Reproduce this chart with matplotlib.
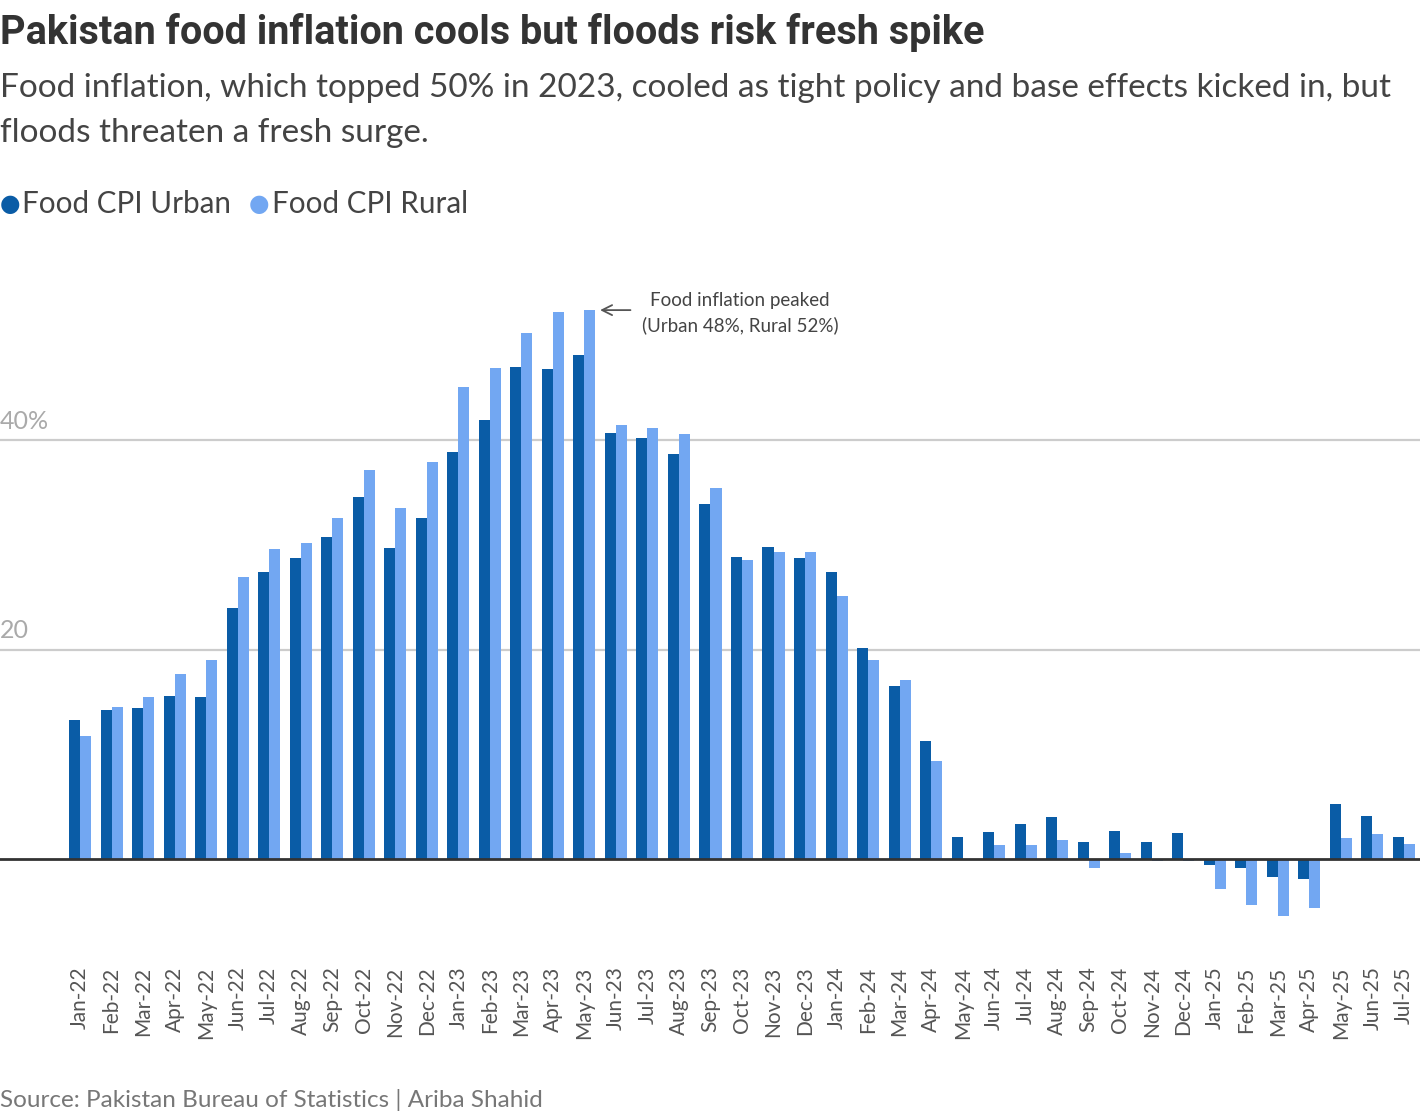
import matplotlib
matplotlib.use("Agg")
import matplotlib.pyplot as plt
import numpy as np

# Data (Food CPI YoY %)
months = ["Jan-22", "Feb-22", "Mar-22", "Apr-22", "May-22", "Jun-22", "Jul-22", "Aug-22",
          "Sep-22", "Oct-22", "Nov-22", "Dec-22", "Jan-23", "Feb-23", "Mar-23", "Apr-23",
          "May-23", "Jun-23", "Jul-23", "Aug-23", "Sep-23", "Oct-23", "Nov-23", "Dec-23",
          "Jan-24", "Feb-24", "Mar-24", "Apr-24", "May-24", "Jun-24", "Jul-24", "Aug-24",
          "Sep-24", "Oct-24", "Nov-24", "Dec-24", "Jan-25", "Feb-25", "Mar-25", "Apr-25",
          "May-25", "Jun-25", "Jul-25"]
urban = [13.3, 14.2, 14.4, 15.6, 15.5, 24.0, 27.4, 28.7, 30.7, 34.6, 29.7, 32.6,
         38.9, 41.9, 47.0, 46.8, 48.1, 40.7, 40.2, 38.7, 33.9, 28.8, 29.8, 28.7,
         27.4, 20.1, 16.5, 11.3, 2.1, 2.6, 3.3, 4.0, 1.6, 2.7, 1.6, 2.5,
         -0.6, -0.9, -1.7, -1.9, 5.3, 4.1, 2.1]
rural = [11.7, 14.5, 15.5, 17.7, 19.0, 26.9, 29.6, 30.2, 32.6, 37.1, 33.5, 37.9,
         45.1, 46.9, 50.2, 52.2, 52.4, 41.4, 41.1, 40.6, 35.4, 28.5, 29.3, 29.3,
         25.1, 19.0, 17.1, 9.4, 0.0, 1.3, 1.3, 1.8, -0.9, 0.6, -0.2, -0.2,
         -2.9, -4.4, -5.4, -4.7, 2.0, 2.4, 1.4]
y_ticks = [20, 40]
y_tick_labels = ["20", "40%"]

urban_color = "#0a5ca6"
rural_color = "#72a7f2"

fig = plt.figure(figsize=(14.2, 11.16), dpi=100)
ax = fig.add_axes([0, 0.1577, 1, 0.6183])

x = np.arange(len(months))
w = 0.35
ax.bar(x - w / 2, urban, width=w, color=urban_color, zorder=3)
ax.bar(x + w / 2, rural, width=w, color=rural_color, zorder=3)

ax.set_xlim(-2.54, 42.51)
ax.set_ylim(-7.73, 58.14)

# gridlines and zero line
for t in y_ticks:
    ax.axhline(t, color="#cccccc", lw=1.6, zorder=1)
ax.axhline(0, color="#333333", lw=2, zorder=4)

for t, lab in zip(y_ticks, y_tick_labels):
    ax.text(-2.54, t + 0.7, lab, fontsize=18, color="#aaaaaa", ha="left", va="bottom",
            family="Lato")

ax.set_yticks([])
ax.set_xticks(x)
ax.set_xticklabels(months, rotation=90, fontsize=15, color="#555555", family="Lato")
ax.tick_params(axis="x", length=0, pad=19)
for s in ax.spines.values():
    s.set_visible(False)

# annotation for peak
ax.annotate("", xy=(16.41, 52.4), xytext=(17.55, 52.4),
            arrowprops=dict(arrowstyle="->", color="#555555", lw=1.3, mutation_scale=18))
ax.text(20.94, 52.1, "Food inflation peaked\n(Urban 48%, Rural 52%)", fontsize=13.5,
        color="#444444", ha="center", va="center", family="Lato", linespacing=1.5)

# titles
fig.text(0.0, 0.971, "Pakistan food inflation cools but floods risk fresh spike",
         fontsize=28.5, fontweight="bold", color="#333333", family="Roboto", va="center")
fig.text(0.0, 0.921, "Food inflation, which topped 50% in 2023, cooled as tight policy and base effects kicked in, but",
         fontsize=24, color="#444444", family="Lato", va="center")
fig.text(0.0, 0.881, "floods threaten a fresh surge.",
         fontsize=24, color="#444444", family="Lato", va="center")

# legend
fig.text(0.0, 0.817, "\u25cf", fontsize=17, color=urban_color, va="center")
fig.text(0.0155, 0.817, "Food CPI Urban", fontsize=21.3, color="#444444", family="Lato",
         va="center")
fig.text(0.1755, 0.817, "\u25cf", fontsize=17, color=rural_color, va="center")
fig.text(0.1915, 0.817, "Food CPI Rural", fontsize=21.3, color="#444444", family="Lato",
         va="center")

fig.text(0.0, 0.0143, "Source: Pakistan Bureau of Statistics | Ariba Shahid", fontsize=17.5,
         color="#777777", family="Lato", va="center")

fig.savefig("out.png", dpi=100)
